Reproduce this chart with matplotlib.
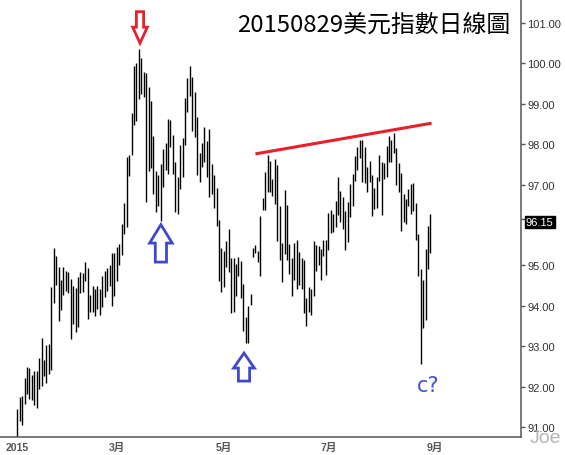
import matplotlib
matplotlib.use('Agg')
import matplotlib.pyplot as plt
from matplotlib.patches import Polygon
from matplotlib.transforms import Affine2D, ScaledTranslation
import pandas as pd

plt.rcParams['font.family'] = ['Liberation Sans', 'Noto Sans CJK TC']

# dias habiles del 2015-01-02 al 2015-08-28 (indice de barra = posicion en x)
fechas = pd.bdate_range('2015-01-02', '2015-08-28')

maximos = [
    91.45, 91.75, 91.76, 92.21, 92.48, 92.45, 92.29, 92.39, 92.39, 92.70,
    93.20, 92.66, 93.03, 93.05, 94.47, 95.43, 95.23, 94.97, 94.65, 94.97,
    94.85, 94.83, 94.66, 94.50, 94.44, 94.72, 94.83, 94.81, 95.08, 94.94,
    94.27, 94.50, 94.42, 94.49, 94.42, 94.75, 94.87, 94.94, 95.00, 95.31,
    95.31, 95.46, 95.53, 96.02, 96.54, 97.68, 97.73, 98.77, 99.94, 100.01,
    100.36, 100.13, 99.78, 99.76, 99.41, 99.07, 98.21, 97.33, 97.25, 97.51,
    97.88, 98.03, 98.62, 98.60, 98.24, 97.55, 97.20, 97.99, 98.16, 99.14,
    99.64, 99.94, 99.66, 99.30, 98.68, 97.78, 98.03, 98.42, 98.09, 98.37,
    97.51, 97.25, 96.92, 96.13, 95.42, 95.36, 95.61, 95.90, 95.18, 95.18,
    95.03, 95.20, 95.12, 94.54, 93.72, 94.00, 94.29, 95.42, 95.50, 95.36,
    96.23, 96.68, 97.32, 97.73, 97.59, 97.14, 97.63, 97.49, 96.48, 95.55,
    96.87, 96.50, 95.53, 95.18, 95.55, 95.63, 95.32, 95.18, 95.13, 94.19,
    94.46, 94.42, 95.60, 95.50, 95.47, 95.41, 95.63, 95.63, 96.30, 96.38,
    96.27, 96.60, 97.18, 96.85, 96.70, 96.35, 96.58, 97.01, 97.26, 97.72,
    97.92, 98.10, 98.10, 97.92, 97.44, 97.59, 97.24, 96.92, 97.20, 97.73,
    97.57, 97.53, 97.95, 98.21, 98.11, 98.28, 97.90, 97.53, 97.29, 96.77,
    96.65, 96.90, 97.01, 97.04, 96.54, 95.77, 94.91, 94.65, 95.41, 95.98,
    96.27,
]
minimos = [
    90.60, 91.16, 91.05, 91.57, 91.82, 91.69, 91.68, 91.54, 91.48, 91.95,
    92.02, 92.27, 92.10, 92.30, 92.42, 94.06, 94.51, 93.63, 93.90, 94.27,
    94.37, 94.31, 93.18, 93.55, 93.36, 93.47, 94.31, 94.33, 94.62, 93.67,
    93.84, 93.84, 93.74, 93.92, 93.77, 93.98, 94.22, 94.37, 94.50, 94.00,
    94.24, 94.62, 95.02, 95.26, 95.78, 95.96, 97.22, 97.73, 98.48, 98.57,
    99.12, 99.24, 99.18, 96.58, 97.33, 97.40, 96.77, 96.33, 96.48, 96.11,
    96.93, 97.37, 97.26, 97.93, 97.26, 96.33, 96.26, 96.90, 97.20, 97.99,
    98.79, 99.20, 98.32, 98.17, 97.23, 97.07, 97.43, 97.55, 97.19, 96.70,
    96.77, 96.42, 95.97, 94.62, 94.34, 94.46, 94.97, 94.83, 93.81, 93.84,
    94.25, 94.75, 94.19, 93.38, 93.07, 93.07, 94.02, 95.22, 95.30, 95.09,
    94.75, 96.38, 96.38, 96.82, 96.81, 96.71, 96.52, 95.61, 95.14, 94.60,
    95.28, 95.14, 94.79, 94.25, 94.63, 94.42, 94.51, 94.42, 93.83, 93.51,
    93.85, 93.76, 94.24, 94.85, 95.01, 94.63, 95.24, 94.76, 95.39, 95.80,
    95.82, 95.94, 96.25, 96.07, 95.90, 95.39, 95.57, 96.21, 96.48, 97.10,
    97.37, 97.66, 97.07, 97.04, 96.82, 97.06, 96.23, 96.40, 96.42, 97.10,
    96.25, 97.13, 97.18, 97.57, 97.57, 97.77, 96.98, 96.82, 95.86, 96.07,
    96.03, 96.46, 96.27, 96.35, 95.62, 94.74, 92.56, 93.45, 93.66, 94.91,
    95.30,
]

titulo = '20150829美元指數日線圖'
ultimo = 96.15
marcas_y = [91, 92, 93, 94, 95, 97, 98, 99, 100, 101]
meses = {1: '2015', 3: '3月', 5: '5月', 7: '7月', 9: '9月'}

# anotaciones a mano (indice de barra, valor)
linea_roja = [(98.0, 97.76), (170.5, 98.52)]
flechas = [
    # x, y punta, largo cabeza, ancho cabeza, ancho cuerpo, largo total, arriba, color
    (50.5, 100.50, 16, 7.3, 3.6, 31.5, False, '#e8202a'),
    (59.1, 96.01, 18.5, 11.3, 5.6, 37.5, True, '#3f48cc'),
    (93.3, 92.83, 15, 10.4, 5.6, 28.0, True, '#3f48cc'),
]

fig = plt.figure(figsize=(5.65, 4.56), dpi=100)
ax = fig.add_axes([0, 18.3 / 456, 521 / 565, 437.7 / 456])

n = len(fechas)
ax.vlines(range(n), minimos, maximos, color='black', lw=1.0)

ax.set_xlim(-7.12, 207.3)
ax.set_ylim(90.76, 101.594)

for lado in ['top', 'left']:
    ax.spines[lado].set_visible(False)
for lado in ['right', 'bottom']:
    ax.spines[lado].set_color('#555555')
    ax.spines[lado].set_linewidth(1.1)

ax.yaxis.tick_right()
ax.set_yticks(marcas_y)
ax.set_yticklabels([f'{v:.2f}' for v in marcas_y])
ax.set_yticks([ultimo], minor=True)
ax.tick_params(axis='y', which='both', length=3, width=1, colors='#555555',
               labelcolor='#333333', labelsize=8, pad=1.5)

todas = pd.bdate_range('2015-01-02', '2015-09-01')
pos_x, etiquetas_x = [], []
for mes, txt in meses.items():
    i = [k for k, d in enumerate(todas) if d.month == mes][0]
    pos_x.append(i)
    etiquetas_x.append(txt)
ax.set_xticks(pos_x)
ax.set_xticklabels(etiquetas_x)
ax.tick_params(axis='x', length=0, pad=4, labelsize=7.6, labelcolor='#555555')
for lbl in ax.get_xticklabels():
    lbl.set_fontweight('bold')

ax.annotate(f'{ultimo:.2f}', xy=(1, ultimo), xycoords=('axes fraction', 'data'),
            xytext=(5, -3), textcoords='offset pixels', color='white',
            fontsize=8, va='center', ha='left', annotation_clip=False,
            bbox=dict(boxstyle='square,pad=0.1', fc='black', ec='black'))

(x0, y0), (x1, y1) = linea_roja
ax.plot([x0, x1], [y0, y1], color='#e8202a', lw=2.2, solid_capstyle='butt')

for x, y, hl, hw, sw, tot, arriba, color in flechas:
    s = -1 if arriba else 1
    verts = [(0, 0), (hw, s * hl), (sw, s * hl), (sw, s * tot),
             (-sw, s * tot), (-sw, s * hl), (-hw, s * hl)]
    tr = Affine2D() + ScaledTranslation(x, y, ax.transData)
    ax.add_patch(Polygon(verts, closed=True, fc='white', ec=color, lw=2.0,
                         transform=tr, clip_on=False, joinstyle='miter'))

ax.text(169.2, 92.03, 'c?', color='#4650d2', fontsize=15, ha='center',
        va='center', family=['DejaVu Sans'])

fig.text(510 / 565, 1 - 25 / 456, titulo, ha='right', va='center',
         fontsize=17.2, color='black', family=['Noto Sans CJK TC'])
fig.text(545 / 565, 1 - 439 / 456, 'Joe', ha='center', va='center',
         fontsize=14, color='#b4b4b4')

fig.savefig('out.png', dpi=100)
